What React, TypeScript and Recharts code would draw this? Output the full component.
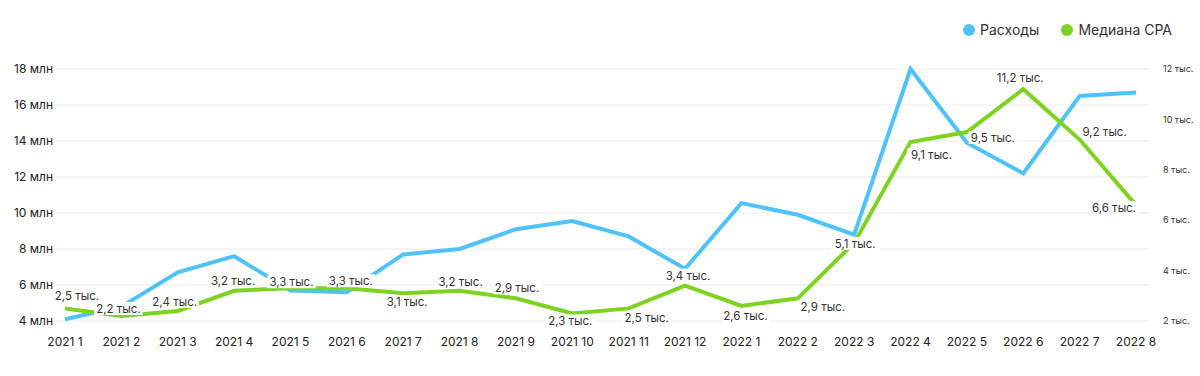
import React from 'react';
import {
  LineChart,
  Line,
  XAxis,
  YAxis,
  CartesianGrid,
  LabelList,
} from 'recharts';

const months = [
  '2021 1', '2021 2', '2021 3', '2021 4', '2021 5', '2021 6', '2021 7', '2021 8', '2021 9', '2021 10',
  '2021 11', '2021 12', '2022 1', '2022 2', '2022 3', '2022 4', '2022 5', '2022 6', '2022 7', '2022 8',
];

// Расходы, млн
const spend = [4.1, 4.8, 6.7, 7.6, 5.7, 5.6, 7.7, 8.0, 9.1, 9.55, 8.7, 6.9, 10.55, 9.9, 8.8, 18.0, 13.9, 12.2, 16.5, 16.7];

// Медиана CPA, тыс.
const cpa = [2.5, 2.2, 2.4, 3.2, 3.3, 3.3, 3.1, 3.2, 2.9, 2.3, 2.5, 3.4, 2.6, 2.9, 5.1, 9.1, 9.5, 11.2, 9.2, 6.6];

const leftTicks = [4, 6, 8, 10, 12, 14, 16, 18];
const rightTicks = [2, 4, 6, 8, 10, 12];

const BLUE = '#4FC3F7';
const GREEN = '#7ED321';
const FONT = 'Inter, "Noto Sans", sans-serif';

// where each CPA label sits relative to its point (label centre offset)
const labelShift: [number, number][] = [
  [12, -12], [-3, -7], [-3, -9], [-1, -10], [1, -6], [4, -7], [4, 9], [1, -9], [1, -10], [-2, 8],
  [18, 10], [3, -10], [4, 10], [25, 9], [1, 1], [21, 13], [26, 6], [-3, -11], [25, -8], [-22, 3],
];

const data = months.map((m, i) => ({ month: m, spend: spend[i], cpa: cpa[i] }));

const fmtCpa = (v: number) => `${String(v).replace('.', ',')} тыс.`;

function CpaLabel(props: any) {
  const { x, y, value, index } = props;
  const [dx, dy] = labelShift[index] || [0, -10];
  const text = fmtCpa(value);
  const w = text.length * 5.8;
  const cx = x + dx;
  const cy = y + dy;
  return (
    <g>
      <rect x={cx - w / 2 - 1} y={cy - 7} width={w + 2} height={13} fill="#fff" />
      <text x={cx} y={cy} textAnchor="middle" dominantBaseline="central" fontSize={11.5} fill="#333" fontFamily={FONT}>
        {text}
      </text>
    </g>
  );
}

function LegendBox() {
  const items = [
    { name: 'Расходы', color: BLUE },
    { name: 'Медиана CPA', color: GREEN },
  ];
  return (
    <div
      style={{
        position: 'absolute',
        top: 21,
        right: 28,
        display: 'flex',
        gap: 22,
        fontFamily: FONT,
        fontSize: 14,
        color: '#333',
      }}
    >
      {items.map((it) => (
        <div key={it.name} style={{ display: 'flex', alignItems: 'center', gap: 5 }}>
          <span style={{ width: 12, height: 12, borderRadius: 6, background: it.color, display: 'inline-block' }} />
          <span>{it.name}</span>
        </div>
      ))}
    </div>
  );
}

export default function App() {
  return (
    <div style={{ position: 'absolute', left: 0, top: 0, width: 1200, height: 376, background: '#fff' }}>
      <LineChart width={1200} height={376} data={data} margin={{ top: 69, right: 0, bottom: 0, left: 0 }}>
        <CartesianGrid yAxisId="left" vertical={false} stroke="#ebebeb" />
        <XAxis
          dataKey="month"
          axisLine={false}
          tickLine={false}
          tickSize={0}
          tickMargin={16}
          height={55}
          interval={0}
          padding={{ left: 10, right: 14 }}
          tick={{ fontSize: 12, fill: '#222', fontFamily: FONT }}
        />
        <YAxis
          yAxisId="left"
          orientation="left"
          domain={[4, 18]}
          ticks={leftTicks}
          width={55}
          axisLine={false}
          tickLine={false}
          tickSize={0}
          tickMargin={2}
          tickFormatter={(v) => `${v} млн`}
          tick={{ fontSize: 12, fill: '#222', fontFamily: FONT }}
        />
        <YAxis
          yAxisId="right"
          orientation="right"
          domain={[2, 12]}
          ticks={rightTicks}
          width={50}
          axisLine={false}
          tickLine={false}
          tickSize={0}
          tickMargin={13}
          tickFormatter={(v) => `${v} тыс.`}
          tick={{ fontSize: 9, fill: '#333', fontFamily: FONT, textAnchor: 'start' }}
        />
        <Line
          yAxisId="left"
          type="linear"
          dataKey="spend"
          name="Расходы"
          stroke={BLUE}
          strokeWidth={4}
          dot={false}
          activeDot={false}
          isAnimationActive={false}
        />
        <Line
          yAxisId="right"
          type="linear"
          dataKey="cpa"
          name="Медиана CPA"
          stroke={GREEN}
          strokeWidth={4}
          dot={false}
          activeDot={false}
          isAnimationActive={false}
        >
          <LabelList dataKey="cpa" content={CpaLabel} />
        </Line>
      </LineChart>
      <LegendBox />
    </div>
  );
}
